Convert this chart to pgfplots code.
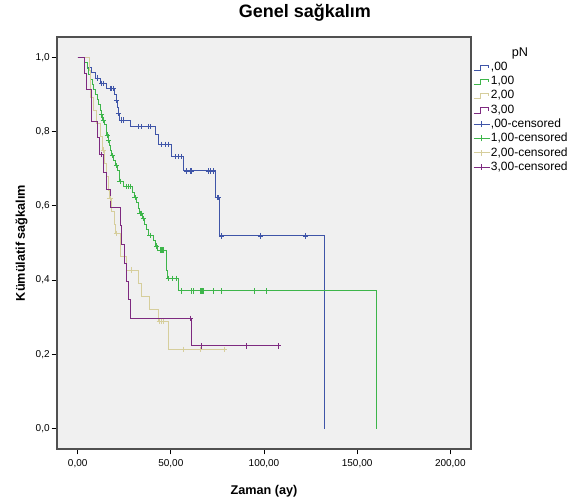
\documentclass[border=0pt]{standalone}
\usepackage{fontspec}
\setmainfont{Liberation Sans}
\usepackage{pgfplots}
\pgfplotsset{compat=1.18}

\definecolor{cblue}{HTML}{3F55A8}
\definecolor{cgreen}{HTML}{3DB54A}
\definecolor{ctan}{HTML}{D6CE9C}
\definecolor{cpurp}{HTML}{7E2A80}
\definecolor{bggray}{HTML}{F0F0F0}
\definecolor{framegray}{HTML}{505050}

\pgfplotsset{
  kmline/.style={const plot, no marks, line width=0.7pt, color=#1,
    legend image code/.code={\draw[color=#1, line width=0.7pt] (0pt,-2.5pt) -- (5pt,-2.5pt) -- (5pt,1.5pt) -- (11pt,1.5pt) -- (11pt,-0.5pt);}},
  kmcens/.style={only marks, mark=+, mark size=2pt, color=#1, mark options={line width=0.6pt},
    legend image code/.code={\draw[color=#1, line width=0.6pt] (0pt,0pt) -- (12pt,0pt) (6pt,-2.2pt) -- (6pt,2.2pt);}},
}

\begin{document}
\begin{tikzpicture}
\begin{axis}[
  name=ax,
  scale only axis,
  width=310.5pt, height=309pt,
  xmin=-11.1, xmax=211.1,
  ymin=-0.0547, ymax=1.0546,
  xtick={0,50,100,150,200},
  ytick={0,0.2,0.4,0.6,0.8,1.0},
  tick pos=left,
  tick align=outside,
  major tick length=4pt,
  tick style={black, line width=0.6pt},
  axis line style={framegray, line width=1pt},
  axis background/.style={fill=bggray},
  /pgf/number format/assume math mode=true,
  tick label style={font=\fontsize{7.5}{9}\selectfont},
  xticklabel style={/pgf/number format/.cd, fixed, fixed zerofill, precision=2, use comma},
  yticklabel style={xshift=2pt, /pgf/number format/.cd, fixed, fixed zerofill, precision=1, use comma},
  title={Genel sağkalım},
  title style={at={(axis description cs:0.599,1)}, anchor=base, yshift=8.5pt,
    font=\bfseries\fontsize{13.5}{15}\selectfont},
  xlabel={Zaman (ay)},
  every axis x label/.style={at={(axis description cs:0.5,0)}, anchor=base, yshift=-34pt,
    font=\bfseries\fontsize{9.5}{11}\selectfont},
  ylabel={Kümülatif sağkalım},
  every axis y label/.style={at={(axis description cs:0,0.5)}, rotate=90, anchor=base, yshift=24pt,
    font=\bfseries\fontsize{9.5}{11}\selectfont},
  legend style={at={(1,1)}, anchor=north west, xshift=1.5pt, yshift=-17pt,
    draw=none, fill=none, inner sep=0pt, row sep=0pt,
    font=\fontsize{9}{10}\selectfont,
    nodes={inner sep=0.6pt, minimum height=10.7pt}},
  legend cell align=left,
  clip=false,
]
% ,00
\addplot[kmline=cblue] coordinates {
  (0,1.0) (3.4,0.986) (5.0,0.972) (7.5,0.958) (9.5,0.944) (12.0,0.930)
  (15.5,0.916) (19.8,0.899) (20.6,0.883) (21.2,0.866) (21.8,0.849) (22.4,0.831)
  (28.1,0.813) (41.5,0.791) (43.3,0.766) (50.4,0.732) (56.7,0.694)
  (74.2,0.622) (76.0,0.519) (132.4,0.0)
};
\addlegendentry{,00}
% 1,00
\addplot[kmline=cgreen] coordinates {
  (0,1.0) (3.5,0.985) (5.0,0.970) (6.0,0.955) (6.8,0.941) (7.8,0.927) (8.6,0.913)
  (9.6,0.899) (10.4,0.886) (11.3,0.872) (12.2,0.858) (12.7,0.845) (13.4,0.831)
  (14.5,0.818) (15.2,0.804) (15.7,0.791) (16.3,0.777) (16.9,0.763) (17.6,0.749)
  (18.2,0.735) (19.3,0.721) (20.1,0.708) (21.6,0.694) (22.2,0.680) (22.6,0.666)
  (24.8,0.652) (29.3,0.637) (30.3,0.622) (31.4,0.608) (32.4,0.594) (33.1,0.580)
  (34.6,0.566) (36.0,0.551) (37.1,0.536) (38.2,0.520) (40.5,0.506) (41.8,0.492)
  (43.0,0.481) (47.4,0.445) (47.9,0.425) (48.3,0.405) (54.0,0.371) (160.1,0.0)
};
\addlegendentry{1,00}
% 2,00
\addplot[kmline=ctan] coordinates {
  (0,1.0) (6.2,0.964) (6.6,0.929) (7.0,0.893) (8.5,0.857) (10.0,0.821) (12.0,0.786)
  (13.2,0.750) (14.6,0.714) (15.3,0.678) (16.3,0.642) (17.0,0.620) (18.0,0.585)
  (19.5,0.550) (20.3,0.526) (22.7,0.463) (26.3,0.427) (32.5,0.391) (34.4,0.355)
  (38.4,0.320) (43.3,0.288) (48.6,0.214) (78.8,0.214)
};
\addlegendentry{2,00}
% 3,00
\addplot[kmline=cpurp] coordinates {
  (0,1.0) (3.4,0.957) (4.8,0.913) (7.5,0.826) (10.5,0.783) (11.6,0.739)
  (13.8,0.690) (15.6,0.643) (17.7,0.595) (22.7,0.546) (23.6,0.496) (24.9,0.446)
  (26.3,0.397) (27.2,0.347) (28.1,0.297) (61.2,0.223) (107.7,0.223)
};
\addlegendentry{3,00}
% censored
\addplot[kmcens=cblue] coordinates {
  (10.5,0.944) (12.9,0.930) (13.8,0.930) (17.3,0.916) (18.2,0.916) (19.1,0.916)
  (20.9,0.883) (21.9,0.849) (23.6,0.831) (24.5,0.831) (32.5,0.813) (34.4,0.813)
  (37.9,0.813) (38.8,0.813) (45.1,0.766) (46.9,0.766) (48.6,0.766) (52.2,0.732)
  (54.0,0.732) (55.8,0.732) (58.5,0.694) (60.3,0.694) (61.2,0.694) (70.1,0.694)
  (71.4,0.694) (72.8,0.694) (74.9,0.622) (75.4,0.622) (77.3,0.519) (98.2,0.519)
  (122.4,0.519)
};
\addlegendentry{,00-censored}
\addplot[kmcens=cgreen] coordinates {
  (12.9,0.845) (13.8,0.831) (15.9,0.791) (16.6,0.777) (18.6,0.735) (20.9,0.708)
  (22.7,0.666) (26.3,0.652) (27.2,0.652) (28.1,0.652) (30.8,0.622) (33.4,0.580)
  (34.0,0.580) (35.2,0.566) (38.8,0.520) (42.4,0.492) (44.2,0.481) (45.0,0.481)
  (45.5,0.481) (46.0,0.481) (48.6,0.405) (51.0,0.405) (53.1,0.405) (55.8,0.371)
  (61.2,0.371) (62.1,0.371) (65.6,0.371) (66.6,0.371) (67.1,0.371) (67.4,0.371)
  (72.8,0.371) (77.3,0.371) (94.8,0.371) (101.4,0.371)
};
\addlegendentry{1,00-censored}
\addplot[kmcens=ctan] coordinates {
  (13.8,0.750) (17.3,0.620) (20.9,0.526) (29.0,0.427) (43.8,0.288) (45.1,0.288)
  (46.0,0.288) (56.7,0.214) (65.6,0.214) (78.8,0.214)
};
\addlegendentry{2,00-censored}
\addplot[kmcens=cpurp] coordinates {
  (12.9,0.739) (60.6,0.297) (66.2,0.223) (90.3,0.223) (107.7,0.223)
};
\addlegendentry{3,00-censored}
\end{axis}
\node[font=\fontsize{9.5}{11}\selectfont, anchor=center] at ([xshift=36.75pt,yshift=-12.5pt]ax.north east) {pN};
\path ([xshift=-42.75pt,yshift=-39.75pt]ax.south west) rectangle ([xshift=75.75pt,yshift=24pt]ax.north east);
\end{tikzpicture}
\end{document}
